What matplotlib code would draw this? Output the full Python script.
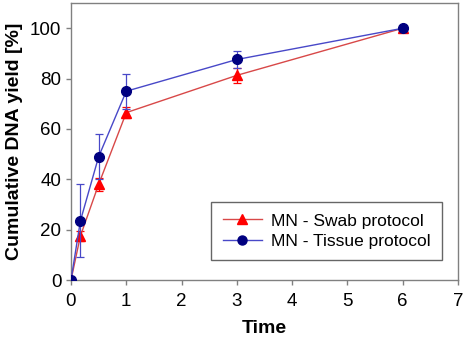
import numpy as np
import matplotlib
matplotlib.use("Agg")
import matplotlib.pyplot as plt
from matplotlib.lines import Line2D
plt.rcParams["font.family"] = ["Liberation Sans", "DejaVu Sans"]

# data
time = [0, 0.17, 0.5, 1, 3, 6]
swab_mean = [0, 17.5, 38, 66.5, 81.3, 100]
swab_err = [0, 2, 2.7, 2.3, 3, 0]
tissue_mean = [0, 23.5, 49, 75, 87.6, 100]
tissue_err = [0, 14.5, 9, 7, 3.3, 0]
labels = ["MN - Swab protocol", "MN - Tissue protocol"]

fig = plt.figure(figsize=(4.64, 3.42), dpi=100)
ax = fig.add_axes([0.153, 0.181, 0.834, 0.810])

swab_style = dict(color="#d84848", lw=1.0, marker="^", ms=7.5, mfc="red", mec="red")
tissue_style = dict(color="#4848c8", lw=1.0, marker="o", ms=7, mfc="#000080", mec="#000080")

ax.errorbar(time, swab_mean, yerr=swab_err, ecolor="red",
            elinewidth=0.9, capsize=2.8, capthick=0.9, zorder=3, **swab_style)
ax.errorbar(time, tissue_mean, yerr=tissue_err, ecolor="#4848c8",
            elinewidth=0.9, capsize=2.8, capthick=0.9, zorder=4, **tissue_style)

ax.set_xlim(0, 7)
ax.set_ylim(0, 110)
ax.set_xticks(range(0, 8))
ax.set_yticks(range(0, 101, 20))
for s in ax.spines.values():
    s.set_color("#808080")
    s.set_linewidth(1.0)
ax.tick_params(colors="#808080", labelcolor="black", labelsize=13.5,
               length=3.5, width=1.0)
ax.tick_params(axis="x", pad=6)
ax.set_xlabel("Time", fontsize=14, fontweight="bold", labelpad=7)
ax.set_ylabel("Cumulative DNA yield [%]", fontsize=14, fontweight="bold", labelpad=5)

# legend shows line + marker only (no error bars)
handles = [Line2D([], [], **{**swab_style, "ms": 6.5}),
           Line2D([], [], **{**tissue_style, "ms": 6.5})]
leg = ax.legend(handles, labels, loc="lower right", bbox_to_anchor=(0.959, 0.072),
                borderaxespad=0, fontsize=12.5, frameon=True, fancybox=False,
                edgecolor="#404040", handlelength=2.25, handletextpad=0.55,
                borderpad=0.65, labelspacing=0.3)
leg.get_frame().set_linewidth(1.0)

fig.savefig("out.png", dpi=100)
